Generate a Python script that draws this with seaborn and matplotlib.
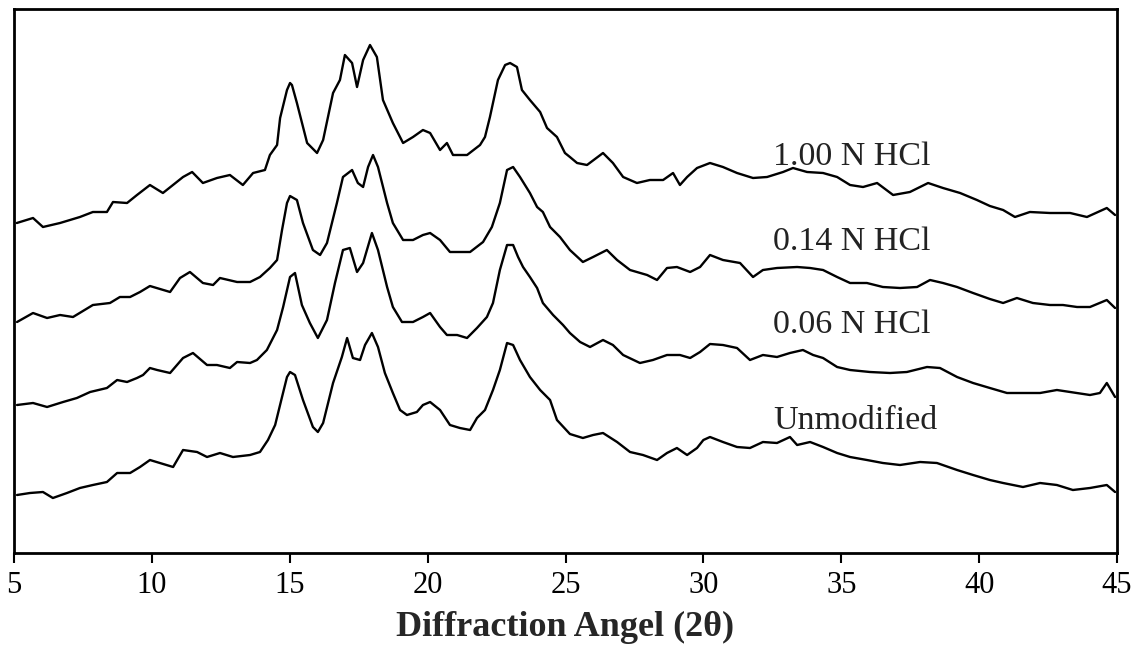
import matplotlib
matplotlib.use("Agg")
import matplotlib.pyplot as plt
import pandas as pd
import seaborn as sns

# Stacked XRD patterns (intensity in a.u., vertical offsets included)
sample_names = ["1.00 N HCl", "0.14 N HCl", "0.06 N HCl", "Unmodified"]

two_theta_100 = [5.10, 5.69, 6.05, 6.67, 7.39, 7.86, 8.37, 8.59, 9.10, 9.46, 9.93, 10.40, 11.13, 11.46,
                 11.85, 12.36, 12.83, 13.30, 13.67, 14.10, 14.28, 14.54, 14.65, 14.90, 15.01, 15.08,
                 15.26, 15.63, 15.99, 16.21, 16.57, 16.82, 17.00, 17.26, 17.44, 17.66, 17.91, 18.16,
                 18.38, 18.74, 19.11, 19.47, 19.83, 20.09, 20.45, 20.70, 20.92, 21.43, 21.90, 22.08,
                 22.26, 22.55, 22.81, 22.99, 23.24, 23.42, 23.71, 24.08, 24.33, 24.69, 24.98, 25.16,
                 25.42, 25.78, 26.36, 26.72, 27.09, 27.59, 28.06, 28.54, 28.90, 29.15, 29.41, 29.77,
                 30.24, 30.71, 31.22, 31.80, 32.31, 32.89, 33.25, 33.76, 34.34, 34.85, 35.32, 35.79,
                 36.30, 36.88, 37.49, 38.15, 38.69, 39.31, 39.92, 40.39, 40.87, 41.30, 41.84, 42.57,
                 43.30, 43.91, 44.63, 44.93]
intensity_100 = [330, 335, 326, 330, 336, 341, 341, 351, 350, 358, 368, 360, 376, 381,
                 370, 375, 378, 368, 380, 383, 398, 408, 435, 463, 470, 468,
                 450, 410, 400, 413, 460, 473, 498, 490, 466, 493, 508, 496,
                 453, 430, 410, 416, 423, 420, 403, 410, 398, 398, 408, 416,
                 436, 473, 488, 490, 486, 463, 453, 441, 425, 416, 400, 396,
                 390, 388, 400, 390, 376, 370, 373, 373, 380, 368, 376, 385,
                 390, 386, 380, 375, 376, 381, 385, 381, 380, 376, 368, 366,
                 370, 358, 361, 370, 365, 360, 353, 347, 343, 336, 341, 340,
                 340, 336, 345, 338]

two_theta_014 = [5.11, 5.69, 6.20, 6.67, 7.14, 7.86, 8.48, 8.84, 9.21, 9.57, 9.93, 10.66, 11.02, 11.38,
                 11.85, 12.22, 12.47, 13.09, 13.56, 13.92, 14.28, 14.54, 14.72, 14.90, 15.01, 15.26,
                 15.48, 15.84, 16.10, 16.35, 16.71, 16.93, 17.26, 17.47, 17.66, 17.84, 18.02, 18.20,
                 18.53, 18.74, 19.11, 19.47, 19.83, 20.09, 20.45, 20.81, 21.17, 21.54, 22.01, 22.33,
                 22.62, 22.88, 23.10, 23.35, 23.71, 23.97, 24.18, 24.44, 24.80, 25.16, 25.63, 26.00,
                 26.50, 26.87, 27.34, 27.96, 28.32, 28.68, 29.04, 29.52, 29.88, 30.24, 30.71, 31.33,
                 31.80, 32.16, 32.67, 33.40, 33.87, 34.34, 34.85, 35.32, 35.93, 36.51, 37.13, 37.75,
                 38.22, 38.69, 39.20, 39.78, 40.39, 40.87, 41.37, 41.95, 42.57, 43.04, 43.55, 44.02,
                 44.63, 44.93]
intensity_014 = [231, 240, 235, 238, 236, 248, 250, 256, 256, 261, 267, 261, 275, 281,
                 270, 268, 275, 271, 271, 276, 285, 293, 323, 350, 357, 353,
                 330, 303, 298, 310, 350, 376, 383, 370, 366, 386, 398, 386,
                 350, 330, 313, 313, 318, 320, 313, 301, 301, 301, 311, 326,
                 350, 383, 386, 376, 360, 346, 341, 326, 316, 303, 291, 296,
                 303, 293, 283, 278, 273, 285, 286, 281, 286, 298, 293, 290,
                 276, 283, 285, 286, 285, 283, 276, 270, 270, 266, 265, 266,
                 273, 270, 266, 260, 254, 250, 255, 250, 248, 248, 246, 246,
                 253, 245]

two_theta_006 = [5.11, 5.69, 6.20, 6.78, 7.28, 7.76, 8.37, 8.74, 9.10, 9.46, 9.68, 9.93, 10.19, 10.66,
                 11.13, 11.49, 12.00, 12.36, 12.83, 13.09, 13.56, 13.81, 14.17, 14.54, 14.76, 15.01,
                 15.19, 15.44, 15.73, 16.02, 16.35, 16.64, 16.93, 17.18, 17.44, 17.66, 17.98, 18.20,
                 18.53, 18.74, 19.07, 19.47, 19.83, 20.09, 20.45, 20.70, 21.07, 21.43, 21.79, 22.15,
                 22.37, 22.62, 22.88, 23.10, 23.28, 23.46, 23.71, 23.97, 24.18, 24.55, 24.91, 25.16,
                 25.53, 25.89, 26.36, 26.72, 27.09, 27.70, 28.17, 28.68, 29.15, 29.52, 29.88, 30.24,
                 30.71, 31.22, 31.69, 32.16, 32.67, 33.14, 33.61, 33.98, 34.34, 34.85, 35.32, 36.04,
                 36.77, 37.38, 38.11, 38.58, 39.20, 39.78, 40.39, 41.01, 41.59, 42.21, 42.82, 43.30,
                 44.02, 44.38, 44.63, 44.93]
intensity_006 = [148, 150, 146, 151, 155, 161, 165, 173, 171, 175, 178, 185, 183, 180,
                 195, 200, 188, 188, 185, 191, 190, 193, 203, 223, 246, 276,
                 280, 248, 230, 215, 233, 270, 303, 305, 281, 290, 320, 303,
                 266, 246, 231, 231, 236, 240, 226, 218, 218, 215, 225, 236,
                 250, 283, 308, 308, 296, 286, 276, 265, 250, 238, 228, 220,
                 211, 206, 213, 208, 198, 190, 193, 198, 198, 195, 201, 209,
                 208, 205, 193, 198, 196, 200, 203, 198, 195, 186, 183, 181,
                 180, 181, 186, 185, 176, 170, 165, 160, 160, 160, 163, 161,
                 158, 160, 170, 156]

two_theta_unmod = [5.11, 5.58, 6.05, 6.41, 6.92, 7.39, 7.86, 8.37, 8.74, 9.21, 9.57, 9.93, 10.29, 10.77,
                   11.13, 11.64, 12.00, 12.47, 12.94, 13.56, 13.92, 14.21, 14.47, 14.72, 14.90, 15.01,
                   15.19, 15.48, 15.84, 16.02, 16.21, 16.57, 16.89, 17.08, 17.29, 17.55, 17.73, 17.98,
                   18.20, 18.45, 18.74, 19.00, 19.25, 19.61, 19.83, 20.09, 20.45, 20.81, 21.17, 21.54,
                   21.79, 22.08, 22.37, 22.62, 22.88, 23.10, 23.35, 23.71, 24.08, 24.44, 24.69, 25.16,
                   25.63, 26.00, 26.36, 26.87, 27.34, 27.81, 28.32, 28.68, 29.04, 29.41, 29.77, 30.00,
                   30.24, 30.71, 31.22, 31.69, 32.16, 32.67, 33.14, 33.40, 33.87, 34.34, 34.85, 35.32,
                   35.93, 36.51, 37.13, 37.86, 38.47, 39.20, 39.78, 40.39, 40.87, 41.59, 42.21, 42.82,
                   43.40, 44.02, 44.63, 44.93]
intensity_unmod = [58, 60, 61, 55, 60, 65, 68, 71, 80, 80, 86, 93, 90, 86,
                   103, 101, 96, 100, 96, 98, 101, 113, 128, 156, 176, 181,
                   178, 153, 126, 121, 130, 170, 196, 215, 195, 193, 208, 220,
                   206, 180, 160, 143, 138, 141, 148, 151, 143, 128, 125, 123,
                   135, 143, 163, 183, 210, 208, 193, 176, 163, 153, 133, 119,
                   115, 118, 120, 111, 101, 98, 93, 100, 105, 98, 105, 113,
                   116, 111, 106, 105, 111, 110, 116, 108, 111, 106, 100, 96,
                   93, 90, 88, 91, 90, 83, 78, 73, 70, 66, 70, 68,
                   63, 65, 68, 61]

x_ticks = [5, 10, 15, 20, 25, 30, 35, 40, 45]

series = [(sample_names[0], two_theta_100, intensity_100),
          (sample_names[1], two_theta_014, intensity_014),
          (sample_names[2], two_theta_006, intensity_006),
          (sample_names[3], two_theta_unmod, intensity_unmod)]
df = pd.concat(
    [pd.DataFrame({"two_theta": x, "intensity": y, "sample": name}) for name, x, y in series],
    ignore_index=True,
)

sns.set_style("ticks")
plt.rcParams["font.family"] = ["Liberation Serif", "DejaVu Serif"]

W, H = 1138, 649
fig = plt.figure(figsize=(W / 100, H / 100), dpi=100)
ax = fig.add_axes([14 / W, 1 - 553 / H, (1117 - 14) / W, (553 - 9) / H])

sns.lineplot(data=df, x="two_theta", y="intensity", hue="sample",
             palette=["black"] * 4, estimator=None, sort=False,
             linewidth=1.7, legend=False, ax=ax)

ax.set_xlim(5, 45)
ax.set_ylim(0, 544)
ax.set_xticks(x_ticks)
ax.set_xticklabels([str(t) for t in x_ticks])
ax.set_yticks([])
ax.set_ylabel("")
ax.tick_params(axis="x", direction="out", length=7, width=1.5, labelsize=22, pad=6, colors="black")
for s in ax.spines.values():
    s.set_visible(True)
    s.set_color("black")
    s.set_linewidth(2)
ax.set_xlabel("Diffraction Angel (2θ)", fontsize=26, fontweight="bold", labelpad=8)

# sample labels to the right of the main peaks
label_x = 32.52
label_y = [396, 311, 228, 132]
for name, yy in zip(sample_names, label_y):
    ax.text(label_x, yy, name, fontsize=24.5, ha="left", va="center", color="#222222")

fig.savefig("out.png", dpi=100)
